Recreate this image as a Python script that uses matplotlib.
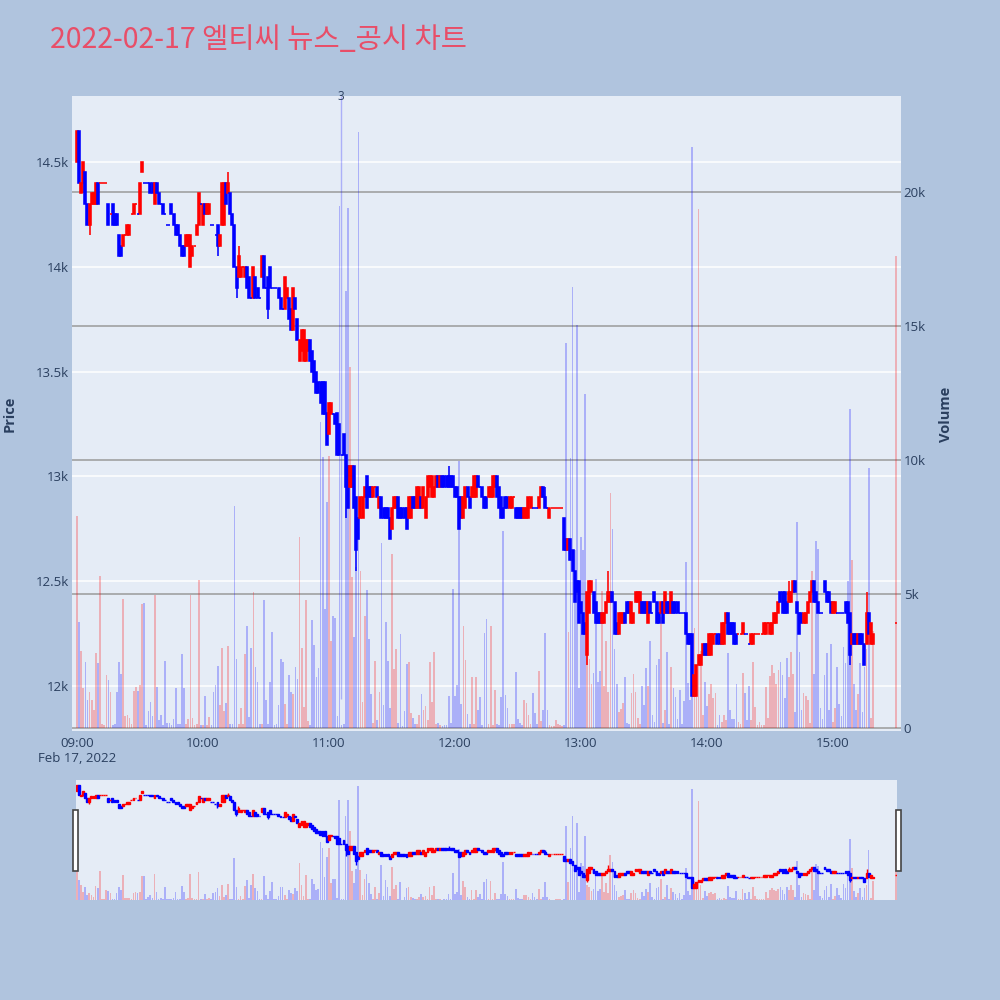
import numpy as np
import matplotlib.pyplot as plt
from matplotlib.patches import Rectangle
from matplotlib.transforms import blended_transform_factory

# 1-minute bars, minute index from 09:00 (0..379 traded, 390 = closing auction 15:30)
minutes = list(range(380)) + [390]

open_px = [
    14500, 14650, 14350, 14400, 14450, 14300, 14200, 14300, 14300, 14300,
    14400, 14400, 14400, 14400, 14400, 14300, 14250, 14300, 14250, 14250,
    14150, 14100, 14100, 14150, 14150, 14150, 14250, 14250, 14300, 14250,
    14250, 14450, 14400, 14400, 14400, 14400, 14400, 14300, 14400, 14350,
    14300, 14300, 14250, 14200, 14200, 14300, 14250, 14200, 14200, 14150,
    14100, 14100, 14100, 14100, 14000, 14050, 14100, 14150, 14200, 14300,
    14200, 14300, 14250, 14250, 14200, 14200, 14150, 14200, 14100, 14200,
    14200, 14400, 14350, 14350, 14250, 14200, 14000, 13950, 13950, 14000,
    13950, 14000, 13950, 13850, 13850, 13950, 13900, 13850, 13950, 14050,
    13900, 13950, 14000, 13900, 13900, 13900, 13900, 13850, 13800, 13800,
    13850, 13850, 13800, 13700, 13850, 13750, 13550, 13600, 13550, 13550,
    13600, 13650, 13600, 13550, 13500, 13450, 13450, 13450, 13450, 13300,
    13200, 13300, 13300, 13300, 13300, 13250, 13100, 13200, 13100, 13050,
    12950, 12950, 13050, 12900, 12800, 12800, 12800, 12900, 13000, 12950,
    12950, 12900, 12950, 12950, 12850, 12900, 12850, 12850, 12850, 12800,
    12750, 12850, 12850, 12900, 12850, 12850, 12850, 12850, 12800, 12800,
    12900, 12900, 12850, 12850, 12900, 12850, 12800, 12900, 12950, 12900,
    12900, 12950, 13000, 12950, 13000, 13000, 13000, 13000, 13000, 13000,
    12950, 12950, 12900, 12900, 12800, 12850, 12950, 12900, 12900, 12900,
    12900, 13000, 12950, 12950, 12900, 12900, 12900, 12900, 12900, 12950,
    13000, 12950, 12900, 12850, 12900, 12900, 12850, 12850, 12900, 12850,
    12850, 12850, 12850, 12800, 12800, 12800, 12850, 12850, 12850, 12850,
    12850, 12900, 12950, 12900, 12850, 12800, 12850, 12850, 12850, 12850,
    12850, 12850, 12800, 12700, 12650, 12700, 12650, 12550, 12500, 12500,
    12400, 12350, 12300, 12150, 12350, 12450, 12450, 12400, 12350, 12350,
    12300, 12300, 12350, 12400, 12400, 12450, 12400, 12300, 12250, 12300,
    12300, 12350, 12400, 12400, 12300, 12300, 12400, 12400, 12350, 12400,
    12400, 12400, 12300, 12400, 12350, 12450, 12400, 12350, 12350, 12400,
    12350, 12400, 12400, 12350, 12400, 12400, 12400, 12350, 12350, 12350,
    12350, 12250, 12250, 12250, 11950, 11950, 12100, 12100, 12150, 12200,
    12200, 12150, 12150, 12200, 12250, 12250, 12250, 12200, 12200, 12300,
    12350, 12300, 12300, 12300, 12250, 12250, 12250, 12250, 12250, 12250,
    12200, 12200, 12200, 12250, 12250, 12250, 12250, 12250, 12250, 12300,
    12250, 12250, 12300, 12300, 12350, 12450, 12450, 12450, 12400, 12400,
    12400, 12450, 12500, 12400, 12350, 12350, 12300, 12300, 12350, 12400,
    12450, 12500, 12450, 12400, 12350, 12350, 12500, 12450, 12450, 12400,
    12350, 12350, 12350, 12350, 12350, 12350, 12400, 12400, 12350, 12200,
    12250, 12250, 12200, 12250, 12250, 12200, 12200, 12350, 12200, 12200,
    12300,
]

close_px = [
    14650, 14400, 14400, 14500, 14300, 14200, 14300, 14350, 14350, 14400,
    14300, 14400, 14400, 14400, 14400, 14200, 14250, 14200, 14200, 14200,
    14050, 14050, 14150, 14150, 14200, 14200, 14250, 14300, 14300, 14250,
    14400, 14500, 14400, 14400, 14400, 14350, 14350, 14400, 14350, 14300,
    14300, 14250, 14250, 14200, 14200, 14250, 14200, 14150, 14150, 14100,
    14050, 14050, 14150, 14150, 14150, 14100, 14100, 14200, 14350, 14300,
    14300, 14250, 14300, 14300, 14200, 14200, 14150, 14100, 14150, 14400,
    14400, 14300, 14400, 14250, 14200, 14000, 13900, 14050, 14000, 14000,
    14000, 13900, 13850, 13850, 14000, 13850, 13850, 13850, 14050, 13900,
    13900, 13800, 13900, 13900, 13900, 13900, 13850, 13800, 13800, 13950,
    13900, 13750, 13700, 13900, 13800, 13650, 13650, 13700, 13700, 13650,
    13650, 13550, 13500, 13450, 13400, 13400, 13350, 13300, 13300, 13150,
    13350, 13350, 13300, 13250, 13100, 13100, 13100, 13100, 12950, 12850,
    13050, 13050, 12850, 12650, 12700, 12900, 12900, 12950, 12850, 12900,
    12900, 12950, 12950, 12900, 12900, 12800, 12800, 12800, 12800, 12700,
    12850, 12900, 12900, 12800, 12800, 12800, 12800, 12750, 12900, 12900,
    12850, 12850, 12950, 12950, 12850, 12950, 12900, 13000, 13000, 13000,
    12950, 13000, 12950, 13000, 12950, 12950, 12950, 12950, 12950, 12950,
    12900, 12900, 12750, 12800, 12900, 12950, 12900, 12850, 12950, 13000,
    13000, 12950, 12950, 12900, 12850, 12850, 12950, 12950, 13000, 13000,
    12900, 12850, 12800, 12800, 12850, 12850, 12900, 12900, 12900, 12800,
    12800, 12800, 12800, 12850, 12850, 12900, 12900, 12850, 12850, 12850,
    12900, 12950, 12900, 12850, 12850, 12850, 12850, 12850, 12850, 12850,
    12850, 12850, 12650, 12650, 12700, 12600, 12550, 12400, 12450, 12300,
    12350, 12250, 12250, 12450, 12500, 12500, 12350, 12300, 12300, 12300,
    12350, 12350, 12400, 12450, 12450, 12400, 12250, 12250, 12350, 12350,
    12350, 12300, 12350, 12350, 12400, 12350, 12450, 12450, 12450, 12350,
    12350, 12350, 12400, 12350, 12350, 12400, 12300, 12300, 12400, 12300,
    12450, 12350, 12350, 12450, 12350, 12350, 12350, 12350, 12350, 12350,
    12250, 12200, 12200, 11950, 12050, 12100, 12150, 12150, 12200, 12150,
    12150, 12250, 12250, 12250, 12250, 12200, 12200, 12300, 12300, 12350,
    12250, 12250, 12250, 12200, 12200, 12250, 12250, 12300, 12250, 12250,
    12200, 12250, 12250, 12250, 12250, 12250, 12250, 12300, 12300, 12300,
    12300, 12300, 12350, 12350, 12400, 12400, 12350, 12350, 12350, 12450,
    12450, 12500, 12450, 12350, 12250, 12300, 12350, 12350, 12400, 12450,
    12500, 12400, 12400, 12350, 12350, 12350, 12450, 12400, 12400, 12350,
    12400, 12400, 12350, 12350, 12350, 12350, 12350, 12300, 12150, 12250,
    12200, 12200, 12250, 12200, 12200, 12100, 12350, 12250, 12300, 12250,
    12300,
]

# extra wick ends (minute: price) where the shadow goes past the body
high_extra = {3: 14500, 72: 14450, 77: 14100, 177: 13050, 223: 12950,
              253: 12550, 339: 12500, 376: 12450}
low_extra = {3: 14350, 6: 14150, 67: 14050, 76: 13850, 91: 13750,
             128: 12800, 133: 12550, 243: 12100, 368: 12100}

volume = [
    7900, 3940, 2880, 1500, 2450, 1050, 1350, 1050, 670, 2800,
    2420, 5690, 140, 100, 1960, 1780, 1350, 100, 140, 1350,
    2450, 2000, 4820, 440, 470, 365, 140, 1385, 1540, 1385,
    1610, 4630, 4660, 100, 620, 970, 440, 4980, 1540, 290,
    470, 100, 2510, 170, 170, 100, 320, 1480, 140, 140,
    2770, 1480, 140, 320, 4980, 380, 100, 140, 5520, 100,
    100, 1200, 100, 410, 100, 1350, 1610, 2330, 870, 2970,
    620, 930, 3060, 140, 140, 8280, 2570, 140, 750, 140,
    2750, 3820, 410, 3000, 5070, 2270, 1700, 140, 140, 4760,
    1050, 140, 1700, 3580, 100, 140, 870, 2570, 2450, 900,
    140, 1960, 1350, 1250, 2270, 1810, 7140, 3000, 790, 4780,
    260, 100, 4020, 3090, 1890, 2240, 11400, 10100, 4430, 8430,
    10150, 3260, 4170, 4120, 440, 19470, 100, 140, 16300, 19420,
    13480, 5650, 3410, 6000, 22240, 5840, 970, 4170, 5160, 3330,
    1250, 170, 2500, 290, 1350, 6910, 870, 3970, 2510, 750,
    6500, 2190, 2950, 170, 3490, 60, 650, 2370, 2480, 560,
    365, 140, 140, 500, 1260, 670, 810, 290, 2450, 970,
    2820, 140, 170, 110, 60, 110, 100, 1200, 170, 5190,
    1200, 1610, 9950, 900, 3790, 2540, 520, 140, 1920, 140,
    1890, 670, 1170, 100, 3550, 4060, 140, 3790, 100, 1400,
    140, 100, 1170, 7340, 1230, 750, 140, 140, 140, 2090,
    320, 170, 100, 1050, 940, 500, 140, 1320, 560, 140,
    2110, 260, 670, 3560, 670, 100, 60, 60, 290, 140,
    110, 60, 100, 14370, 3580, 10080, 16470, 6650, 15020, 1500,
    7140, 6640, 12470, 2880, 2570, 1660, 2050, 5570, 1700, 2110,
    5110, 1580, 3230, 1350, 8750, 7440, 2940, 1660, 590, 720,
    930, 1890, 170, 140, 1310, 2000, 1350, 365, 140, 1550,
    870, 2240, 1570, 3240, 500, 210, 2340, 2570, 4160, 200,
    670, 2850, 140, 2270, 1500, 1170, 350, 1430, 140, 1000,
    6180, 1690, 1050, 21670, 3730, 2340, 19370, 2880, 470, 1700,
    810, 1280, 1630, 1130, 1320, 100, 470, 240, 470, 290,
    2790, 670, 335, 335, 1660, 230, 140, 2070, 1320, 290,
    1550, 290, 2450, 780, 100, 240, 100, 100, 1520, 365,
    1930, 2340, 2040, 1660, 2150, 2450, 1960, 1130, 2630, 1890,
    2850, 2020, 590, 7670, 2850, 670, 1320, 1200, 1050, 170,
    5870, 2020, 6990, 6680, 750, 335, 1960, 2800, 670, 3140,
    210, 750, 2270, 900, 440, 3030, 2420, 5490, 11900, 6270,
    1660, 670, 1280, 2420, 590, 2270, 2950, 9700, 365, 3610,
    17600,
]

price_ticks = [12000, 12500, 13000, 13500, 14000, 14500]
price_labels = ['12k', '12.5k', '13k', '13.5k', '14k', '14.5k']
vol_ticks = [0, 5000, 10000, 15000, 20000]
vol_labels = ['0', '5k', '10k', '15k', '20k']
time_ticks = [0, 60, 120, 180, 240, 300, 360]
time_labels = ['09:00', '10:00', '11:00', '12:00', '13:00', '14:00', '15:00']
news_minute = 125.7
news_label = '3'

assert len(open_px) == len(close_px) == len(volume) == len(minutes)

x = np.array(minutes, dtype=float)
o = np.array(open_px, dtype=float)
c = np.array(close_px, dtype=float)
v = np.array(volume, dtype=float)

# plotly-style direction: doji keeps direction vs previous close
up = []
prev_c, prev_up = None, True
for oo, cc in zip(o, c):
    if cc != oo:
        d = cc > oo
    elif prev_c is not None and cc != prev_c:
        d = cc > prev_c
    else:
        d = prev_up
    up.append(d)
    prev_c, prev_up = cc, d
up = np.array(up)

hi = np.array([max(oo, cc, high_extra.get(m, 0)) for m, oo, cc in zip(minutes, o, c)])
lo = np.array([min(oo, cc, low_extra.get(m, 1e9)) for m, oo, cc in zip(minutes, o, c)])

TXT = '#2a3f5f'
BG = '#E5ECF6'


def draw(axp, axv, body_w, lw, vol_w, alpha):
    cols = np.where(up, 'red', 'blue')
    axp.vlines(x, lo, hi, colors=cols, lw=lw, zorder=3)
    body = c != o
    axp.bar(x[body], np.abs(c - o)[body], bottom=np.minimum(o, c)[body],
            width=body_w, color=cols[body], edgecolor=cols[body],
            linewidth=lw, zorder=3)
    axp.hlines(c[~body], x[~body] - body_w / 2, x[~body] + body_w / 2,
               colors=cols[~body], lw=lw, zorder=3)
    vcols = [(1, 0, 0, alpha) if u else (0, 0, 1, alpha) for u in up]
    axv.bar(x, v, width=vol_w, color=vcols, linewidth=0, zorder=1)


def clean(a):
    for s in a.spines.values():
        s.set_visible(False)
    a.tick_params(length=0)


plt.rcParams['font.family'] = ['Open Sans', 'DejaVu Sans']

fig = plt.figure(figsize=(10, 10), dpi=100, facecolor='#B0C4DE')

# main chart
ax = fig.add_axes([0.072, 0.269, 0.829, 0.635])
axv = ax.twinx()
ax.set_zorder(2)
axv.set_zorder(1)
ax.patch.set_visible(False)
axv.patch.set_visible(True)
axv.patch.set_facecolor(BG)

draw(ax, axv, 0.95, 1.15, 0.8, 0.25)

ax.set_xlim(-2.38, 392.4)
ax.set_ylim(11785, 14815)
axv.set_ylim(-112, 23582)

axv.set_yticks(vol_ticks)
axv.set_yticklabels(vol_labels)
axv.grid(axis='y', color='#9a9a9a', lw=1.1)
axv.set_axisbelow(True)
tr = blended_transform_factory(axv.transAxes, ax.transData)
axv.hlines(price_ticks, 0, 1, transform=tr, colors='white', lw=1.1, zorder=0.6)

ax.set_yticks(price_ticks)
ax.set_yticklabels(price_labels)
ax.set_xticks(time_ticks)
ax.set_xticklabels(time_labels)
clean(ax)
clean(axv)
ax.tick_params(axis='y', pad=2, labelsize=9.5, labelcolor=TXT)
ax.tick_params(axis='x', pad=4, labelsize=9.5, labelcolor=TXT)
axv.tick_params(axis='y', pad=2, labelsize=9.5, labelcolor=TXT)

# news marker
axv.vlines(news_minute, 1100, 23582, colors=[(0, 0, 1, 0.25)], lw=1, zorder=1)
ax.text(news_minute, 1.0, news_label, transform=blended_transform_factory(ax.transData, ax.transAxes),
        ha='center', va='center', fontsize=8.5, color=TXT)

fig.text(0.077, 1 - 0.758, 'Feb 17, 2022', ha='center', va='center', fontsize=9.5, color=TXT)
fig.text(0.010, 1 - 0.414, 'Price', rotation=90, ha='center', va='center',
         fontsize=10.5, fontweight='bold', color=TXT)
fig.text(0.946, 1 - 0.414, 'Volume', rotation=90, ha='center', va='center',
         fontsize=10.5, fontweight='bold', color=TXT)

fig.text(0.05, 1 - 0.040, '2022-02-17 엘티씨 뉴스_공시 차트', ha='left', va='center',
         fontsize=20.5, color='#E84E68', family=['Noto Sans CJK KR', 'DejaVu Sans'])

# range slider
sax = fig.add_axes([0.076, 0.100, 0.821, 0.120])
sav = sax.twinx()
sax.set_zorder(2)
sav.set_zorder(1)
sax.patch.set_visible(False)
sav.patch.set_visible(True)
sav.patch.set_facecolor(BG)
draw(sax, sav, 0.9, 1.0, 0.8, 0.25)
sax.set_xlim(-0.35, 390.5)
sax.set_ylim(11635, 14781)
sav.set_ylim(0, 23400)
for a in (sax, sav):
    a.set_xticks([])
    a.set_yticks([])
    clean(a)

for hx in (0.0733, 0.8963):
    fig.add_artist(Rectangle((hx, 1 - 0.871), 0.0045, 0.061, transform=fig.transFigure,
                             facecolor='white', edgecolor='#444444', lw=1.2, zorder=5))

fig.savefig('out.png', dpi=100, facecolor=fig.get_facecolor())
